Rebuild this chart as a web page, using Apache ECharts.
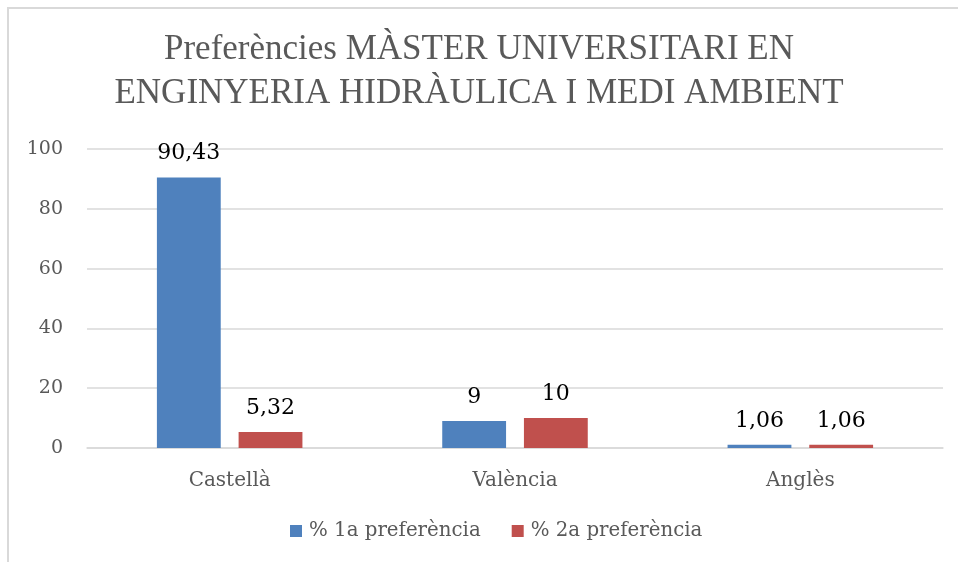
<!DOCTYPE html>
<html><head><meta charset="utf-8">
<script src="https://cdn.jsdelivr.net/npm/echarts@6/dist/echarts.min.js"></script>
<style>html,body{margin:0;padding:0;background:#fff}#c{width:958px;height:562px;position:relative}
#frame{position:absolute;left:7px;top:7px;width:960px;height:600px;border-left:2px solid #d9d9d9;border-top:2px solid #d9d9d9;box-sizing:border-box;pointer-events:none}</style>
</head><body>
<div id="c"></div>
<script>
var categories = ['Castellà', 'València', 'Anglès'];
var seriesNames = ['% 1a preferència', '% 2a preferència'];
var pref1 = [90.43, 9, 1.06];
var pref2 = [5.32, 10, 1.06];
var yTicks = [0, 20, 40, 60, 80, 100];

var titleFont = '"Liberation Serif"';
var font = '"DejaVu Serif"';
var chart = echarts.init(document.getElementById('c'));
function lbl(v){ return String(v).replace('.', ','); }
var labelStyle = { show: true, position: 'top', distance: 13, fontFamily: font, fontSize: 22, color: '#000', formatter: function(p){ return lbl(p.value); } };
chart.setOption({
  backgroundColor: '#fff',
  animation: false,
  title: {
    text: 'Preferències MÀSTER UNIVERSITARI EN\nENGINYERIA HIDRÀULICA I MEDI AMBIENT',
    left: 'center', top: 23,
    textStyle: { fontFamily: titleFont, fontSize: 35, fontWeight: 'normal', color: '#595959', lineHeight: 44 }
  },
  legend: {
    bottom: 16, left: 285, itemWidth: 12, itemHeight: 12, itemGap: 31,
    icon: 'rect',
    textStyle: { fontFamily: font, fontSize: 19.8, color: '#595959', padding: [0, 0, 0, 2] },
    data: seriesNames
  },
  grid: { left: 87, right: 15, top: 149, bottom: 114 },
  xAxis: {
    type: 'category', data: categories,
    axisLine: { lineStyle: { color: '#d9d9d9', width: 1.5 } },
    axisTick: { show: false },
    axisLabel: { fontFamily: font, fontSize: 20, color: '#595959', margin: 23 }
  },
  yAxis: {
    type: 'value', min: yTicks[0], max: yTicks[yTicks.length-1], interval: 20,
    axisLine: { show: false }, axisTick: { show: false },
    splitLine: { lineStyle: { color: '#d9d9d9', width: 1.5 } },
    axisLabel: { fontFamily: font, fontSize: 19, color: '#595959', margin: 24 }
  },
  series: [
    { name: seriesNames[0], type: 'bar', data: pref1, barGap: '28%', barCategoryGap: '49%',
      itemStyle: { color: '#4f81bd' }, label: labelStyle },
    { name: seriesNames[1], type: 'bar', data: pref2,
      itemStyle: { color: '#c0504d' }, label: labelStyle }
  ]
});
var f = document.createElement('div'); f.id = 'frame'; document.getElementById('c').appendChild(f);
</script>
</body></html>
